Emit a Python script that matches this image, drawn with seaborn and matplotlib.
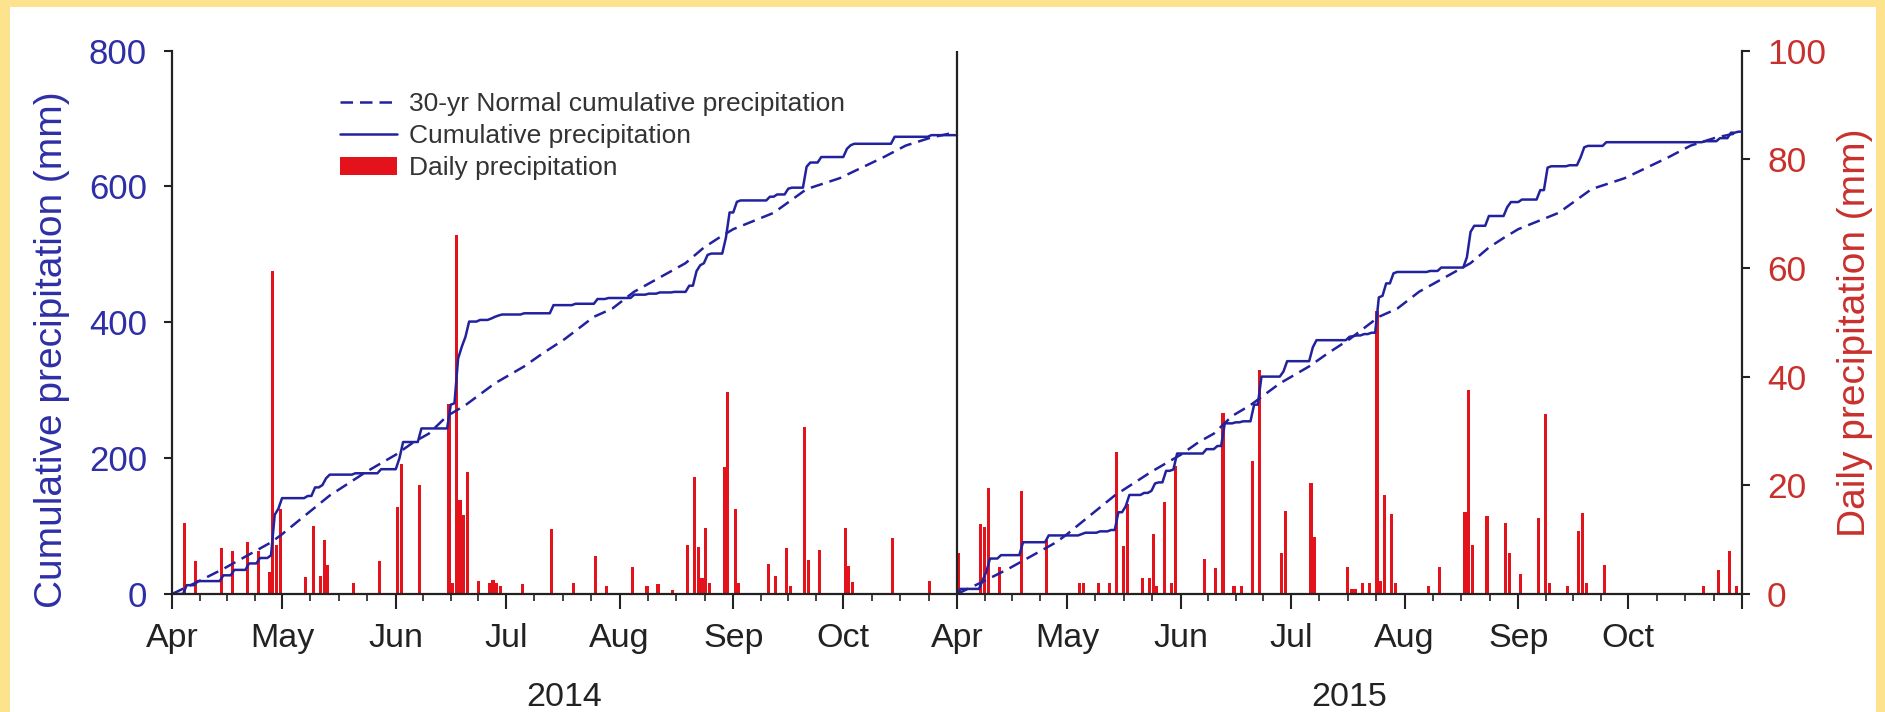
import numpy as np
import pandas as pd
import matplotlib
matplotlib.use("Agg")
import matplotlib.pyplot as plt
from matplotlib.lines import Line2D
from matplotlib.patches import Patch, Rectangle
from matplotlib.transforms import blended_transform_factory
import seaborn as sns

# ---- data -----------------------------------------------------------------
SEASON_YEARS = [2014, 2015]
MONTH_LABELS = ["Apr", "May", "Jun", "Jul", "Aug", "Sep", "Oct"]

# daily precipitation: day index counted from 1 April, amount in mm
RAIN_2014_DAY = [3, 6, 13, 16, 20, 23, 26, 27, 28, 29, 36, 38, 40, 41, 42, 49, 56,
                 61, 62, 67, 75, 76, 77, 78, 79, 80, 83, 86, 87, 88, 89, 95, 103,
                 109, 115, 118, 125, 129, 132, 136, 140, 142, 143, 144, 145, 146, 150, 151,
                 153, 154, 162, 164, 167, 168, 172, 173, 176, 183, 184, 185, 196, 206]
RAIN_2014_MM = [13, 6, 8.5, 8, 9.5, 8, 4, 59.5, 9, 15.6, 3.2, 12.6, 3.4, 10, 5.4, 2, 6,
                16, 24, 20, 35, 2, 66, 17.3, 14.5, 22.5, 2.4, 2, 2.5, 2, 1.5, 1.8, 12,
                2, 7, 1.5, 4.9, 1.5, 1.8, 0.8, 9.1, 21.5, 8.6, 3, 12.2, 2, 23.3, 37.2,
                15.7, 2, 5.5, 3.3, 8.5, 1.5, 30.8, 6.2, 8.1, 12.1, 5.2, 2.2, 10.3, 2.4]

RAIN_2015_DAY = [0, 6, 7, 8, 11, 17, 24, 33, 34, 38, 41, 43, 45, 46, 50, 52, 53, 54, 56, 58,
                 59, 67, 70, 72, 75, 77, 80, 82, 88, 89, 96, 97, 106, 107, 108, 110, 112, 114,
                 115, 116, 118, 119, 128, 131, 138, 139, 140, 144, 149, 150, 153, 158, 160,
                 161, 166, 169, 170, 171, 176, 203, 207, 210, 212]
RAIN_2015_MM = [7.5, 12.9, 12.3, 19.5, 5, 19, 10, 2, 2, 2, 2, 26.2, 8.8, 16.6, 3, 3, 11, 1.5, 17, 2,
                23.5, 6.4, 4.7, 33.3, 1.5, 1.5, 24.5, 41.3, 7.5, 15.2, 20.4, 10.5, 5, 1, 1, 2, 2, 52,
                2.3, 18.3, 14.8, 2, 1.5, 5, 15, 37.5, 9, 14.4, 13, 7.5, 3.7, 13.9, 33.1,
                2, 1.5, 11.6, 14.9, 2, 5.4, 1.5, 4.5, 8, 1.5]

# 30-year normal cumulative precipitation (mm) since 1 April
NORMAL_DAY = [0, 7, 14, 21, 27, 30, 35, 43, 53, 61, 66, 70, 75, 80, 88, 96, 101, 107, 115, 120,
              126, 140, 145, 149, 153, 164, 173, 182, 194, 200, 207, 214]
NORMAL_MM = [0, 18, 37, 58, 76, 88, 110, 145, 180, 205, 224, 236, 262, 278, 310, 335, 354, 375,
             408, 420, 445, 487, 510, 524, 537, 561, 596, 612, 643, 660, 672, 680]

RAIN_DAYS = {2014: RAIN_2014_DAY, 2015: RAIN_2015_DAY}
RAIN_MM = {2014: RAIN_2014_MM, 2015: RAIN_2015_MM}

# ---- style ----------------------------------------------------------------
BLUE = "#22229E"
BLUE_TXT = "#2E2EA6"
RED = "#E3121B"
RED_TXT = "#C9302C"
DARK = "#222222"
FRAME = "#FDE38E"

sns.set_theme(style="ticks")
plt.rcParams["font.family"] = ["Liberation Sans", "DejaVu Sans"]

W, H = 1885, 712
fig = plt.figure(figsize=(W / 100, H / 100), dpi=100)
fig.patch.set_facecolor(FRAME)
fig.patches.append(Rectangle((10 / W, 0), (1876 - 10) / W, 1 - 7 / H,
                             transform=fig.transFigure, facecolor="white",
                             edgecolor="none", zorder=0))

ax = fig.add_axes([172 / W, 1 - 594 / H, (1742 - 172) / W, (594 - 50.5) / H])
ax2 = ax.twinx()
ax.set_zorder(2)
ax2.set_zorder(1)
ax.patch.set_visible(False)
ax2.patch.set_visible(False)

# ---- build the seasons ----------------------------------------------------
offset = 0
month_ticks, year_centres = [], []
bar_x, bar_y = [], []
for year in SEASON_YEARS:
    season = pd.date_range(f"{year}-04-01", f"{year}-10-31", freq="D")
    n_days = len(season)
    starts = pd.date_range(f"{year}-04-01", f"{year}-10-31", freq="MS")
    month_ticks += [offset + (d - season[0]).days for d in starts]

    daily = np.zeros(n_days)
    daily[np.array(RAIN_DAYS[year])] = RAIN_MM[year]
    cum = np.concatenate([[0.0], np.cumsum(daily)])
    days = offset + np.arange(n_days + 1)

    sns.lineplot(x=offset + np.array(NORMAL_DAY), y=NORMAL_MM, ax=ax, color=BLUE,
                 lw=1.8, linestyle=(0, (5, 2.8)), estimator=None)
    sns.lineplot(x=days, y=cum, ax=ax, color=BLUE, lw=1.8, estimator=None)

    bar_x += list(offset + np.array(RAIN_DAYS[year]) + 0.5)
    bar_y += list(RAIN_MM[year])

    year_centres.append(offset + n_days / 2)
    offset += n_days
total_days = offset

sns.barplot(x=bar_x, y=bar_y, ax=ax2, native_scale=True, color=RED, saturation=1,
            width=0.85, errorbar=None, linewidth=0)

# divider between the two seasons
ax.axvline(month_ticks[len(MONTH_LABELS)], color=DARK, lw=1.6, zorder=5)

# ---- axes -----------------------------------------------------------------
ax.set_xlim(0, total_days)
ax.set_ylim(0, 800)
ax2.set_ylim(0, 100)
ax.set_yticks([0, 200, 400, 600, 800])
ax2.set_yticks([0, 20, 40, 60, 80, 100])

major = month_ticks + [total_days]
ax.set_xticks(major)
ax.set_xticklabels(MONTH_LABELS * len(SEASON_YEARS) + [""])
minor = [a + (b - a) * k / 4 for a, b in zip(major[:-1], major[1:]) for k in (1, 2, 3)]
ax.set_xticks(minor, minor=True)

for a in (ax, ax2):
    a.spines["top"].set_visible(False)
    for s in a.spines.values():
        s.set_linewidth(1.6)
        s.set_color(DARK)
ax.spines["right"].set_visible(False)
ax2.spines["left"].set_visible(False)
ax2.spines["bottom"].set_visible(False)

ax.tick_params(axis="x", which="major", direction="out", length=11, width=1.5,
               color=DARK, labelsize=24.5, labelcolor=DARK, pad=10)
ax.tick_params(axis="x", which="minor", direction="out", length=5, width=1.2, color=DARK)
ax.tick_params(axis="y", direction="out", length=6, width=1.5, color=DARK,
               labelsize=25, labelcolor=BLUE_TXT, pad=12)
ax2.tick_params(axis="y", direction="out", length=6, width=1.5, color=DARK,
                labelsize=25.5, labelcolor=RED_TXT, pad=12)

ax.set_xlabel("")
ax.set_ylabel("Cumulative precipitation (mm)", fontsize=28, color=BLUE_TXT)
ax.yaxis.set_label_coords(-0.065, 0.45)
ax2.set_ylabel("Daily precipitation (mm)", fontsize=28, color=RED_TXT, rotation=90)
ax2.yaxis.set_label_coords(1.0605, 0.48)

trans = blended_transform_factory(ax.transData, fig.transFigure)
for year, xc in zip(SEASON_YEARS, year_centres):
    ax.text(xc, 1 - 698 / H, str(year), transform=trans, ha="center", va="center",
            fontsize=24.5, color=DARK)

handles = [
    Line2D([], [], color=BLUE, lw=1.8, linestyle=(0, (5, 2.8))),
    Line2D([], [], color=BLUE, lw=1.8),
    Patch(facecolor=RED, edgecolor="none"),
]
labels = ["30-yr Normal cumulative precipitation", "Cumulative precipitation",
          "Daily precipitation"]
leg = ax.legend(handles, labels, loc="upper left", bbox_to_anchor=(340 / W, 1 - 92 / H),
                bbox_transform=fig.transFigure, frameon=False, fontsize=19,
                handlelength=2.16, handletextpad=0.45, labelspacing=0.31,
                borderpad=0, borderaxespad=0)
for t in leg.get_texts():
    t.set_color("#333333")

fig.savefig("out.png", dpi=100, facecolor=fig.get_facecolor())
